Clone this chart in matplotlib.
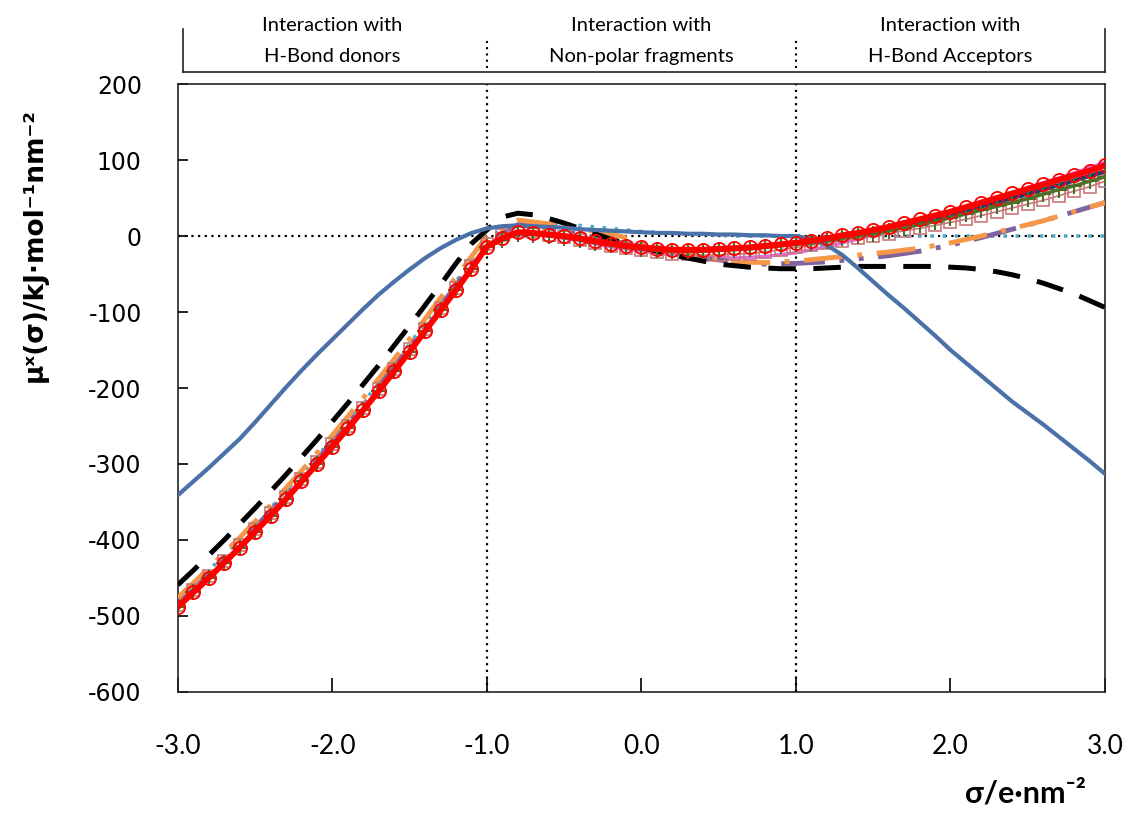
import numpy as np
import matplotlib
matplotlib.use("Agg")
import matplotlib.pyplot as plt
import matplotlib.transforms as mtransforms

# sigma grids: fine one for the smooth / marker series, coarse one for the rest
sig_fine = np.round(np.arange(-3.0, 3.001, 0.1), 1)
sig_coarse = np.round(np.arange(-3.0, 3.001, 0.2), 1)

# sigma-potentials, kJ/mol/nm2 (fine grid)
mu_blue = [-341, -323, -305, -286, -267, -245, -222, -199, -177, -156, -136, -116, -96, -77,
           -60, -44, -29, -16, -5, 4, 10, 13, 14, 13, 12, 11, 9, 8, 7, 6, 5, 4, 4, 3, 3, 2,
           2, 1, 1, 0, 0, -4, -12, -25, -42, -60, -78, -95, -113, -131, -150, -167, -184,
           -201, -218, -233, -248, -264, -280, -296, -313]
mu_black = [-459, -440, -420, -400, -379, -358, -336, -314, -291, -268, -244, -220, -195, -170,
            -144, -118, -91, -64, -36, -10, 8, 25, 30, 28, 23, 17, 10, 3, -4, -10, -15, -20,
            -25, -29, -33, -37, -39, -41, -42, -43, -43, -43, -42, -41, -40, -40, -40, -40,
            -40, -40, -41, -42, -44, -47, -51, -56, -62, -69, -76, -85, -94]

# coarse grid series
mu_orange = [-476, -437, -397, -354, -309, -262, -213, -162, -109, -54, 0, 21, 16, 9, 3, -8,
             -20, -29, -34, -35, -33, -29, -25, -21, -16, -9, 0, 10, 20, 32, 44]
mu_purple = [-482, -444, -404, -362, -317, -271, -223, -172, -119, -65, -8, 15, 10, 2, -6, -14,
             -22, -29, -34, -37, -36, -34, -30, -26, -20, -12, -2, 9, 20, 32, 44]
mu_cyan = [-478, -440, -400, -358, -313, -267, -219, -168, -115, -60, -2, 16, 17, 14, 10, 6,
           4, 2, 0, 0, 0, 0, 0, 0, 0, 0, 0, 0, 0, 0, 0]
mu_violet = [-488, -450, -410, -368, -323, -277, -229, -178, -125, -71, -14, 5, 0, -6, -14, -20,
             -25, -28, -29, -27, -22, -14, -4, 7, 19, 31, 44, 57, 70, 83, 97]
mu_navy = [-488, -450, -410, -368, -323, -277, -229, -178, -125, -71, -14, 5, 2, -3, -10, -15,
           -18, -18, -16, -13, -9, -4, 2, 9, 18, 28, 39, 50, 61, 73, 85]

# marker series (fine grid)
mu_red = [-488, -469, -450, -430, -410, -389, -368, -346, -323, -300, -277, -253, -229, -204,
          -178, -152, -125, -98, -71, -43, -14, -3, 5, 4, 2, 0, -3, -7, -10, -13, -15, -17,
          -18, -18, -18, -17, -16, -15, -13, -11, -9, -6, -3, 1, 4, 8, 12, 17, 22, 27, 32,
          38, 44, 50, 56, 62, 68, 74, 80, 86, 93]
mu_green = [-488, -469, -450, -430, -410, -389, -368, -346, -323, -300, -277, -253, -229, -204,
            -178, -152, -125, -98, -71, -43, -14, -5, 3, 2, 0, -2, -5, -9, -12, -15, -17, -19,
            -20, -20, -20, -19, -18, -17, -15, -13, -11, -9, -6, -3, 0, 3, 7, 11, 15, 19, 24,
            29, 34, 39, 44, 49, 55, 61, 66, 72, 78]
mu_square = [-485, -466, -447, -427, -407, -386, -365, -343, -320, -297, -274, -250, -226, -201,
             -175, -149, -122, -95, -68, -40, -11, 2, 7, 5, 2, -1, -5, -9, -13, -16, -19, -21,
             -23, -24, -25, -25, -24, -23, -21, -18, -15, -12, -9, -6, -3, 0, 3, 7, 10, 14, 18,
             22, 27, 32, 37, 42, 47, 53, 59, 65, 72]

regions = ["Interaction with\nH-Bond donors",
           "Interaction with\nNon-polar fragments",
           "Interaction with\nH-Bond Acceptors"]
region_mid = [-2.0, 0.0, 2.0]
region_edges = [-1.0, 1.0]

TEXT = ["Lato", "DejaVu Sans"]

fig = plt.figure(figsize=(11.33, 8.16), dpi=100)
ax = fig.add_axes([0.157, 0.152, 0.8183, 0.745])

# reference lines
dot = (0, (1, 2))
ax.axhline(0, color="black", lw=1.6, ls=dot, zorder=1)
for e in region_edges:
    ax.axvline(e, color="black", lw=1.6, ls=dot, zorder=1)

ax.plot(sig_coarse, mu_cyan, color="#4BACC6", lw=2.5, ls=(0, (1, 2.5)), zorder=2)
ax.plot(sig_coarse, mu_violet, color="#E36CE3", lw=2.5, zorder=2)
ax.plot(sig_coarse, mu_purple, color="#8064A2", lw=3.5, ls=(0, (9, 3, 1, 3, 1, 3)), zorder=3)
ax.plot(sig_coarse, mu_orange, color="#F79646", lw=3.5, ls=(0, (8, 3, 1, 3)), zorder=3)
ax.plot(sig_fine, mu_square, color="#C87878", lw=1.2, marker="s", ms=8, mfc="none",
        mec="#C87878", mew=1.2, zorder=4)
ax.plot(sig_fine, mu_black, color="black", lw=3.6, ls=(0, (5.5, 3.5)), zorder=4)
ax.plot(sig_fine, mu_blue, color="#4A72A8", lw=3, zorder=5)
ax.plot(sig_coarse, mu_navy, color="#1F3A78", lw=3, zorder=5)
ax.plot(sig_fine, mu_green, color="#4F6F28", lw=2.5, marker="+", ms=12, mew=1.5, zorder=6)
ax.plot(sig_fine, mu_red, color="#FF0000", lw=4.3, marker="o", ms=9.5, mfc="none",
        mec="#FF0000", mew=1.3, zorder=7)

ax.set_xlim(-3, 3)
ax.set_ylim(-600, 200)
ax.set_xticks(np.arange(-3, 3.1, 1))
ax.set_xticklabels([f"{v:.1f}" for v in np.arange(-3, 3.1, 1)], family=TEXT, fontsize=19)
ax.set_yticks(np.arange(-600, 201, 100))
ax.set_yticklabels([f"{v}" for v in range(-600, 201, 100)], fontsize=17)
ax.tick_params(axis="y", direction="in", length=7, width=1.2, pad=26)
ax.tick_params(axis="x", direction="in", length=10, width=1.2, pad=30)
for s in ax.spines.values():
    s.set_linewidth(1.2)
    s.set_color("#222222")

fig.text(0.031, 0.70, "μˣ(σ)/kJ·mol⁻¹nm⁻²", rotation=90, ha="center", va="center",
         fontsize=19, fontweight="bold")
fig.text(0.958, 0.01, "σ/e·nm⁻²", ha="right", va="bottom", fontsize=22,
         fontweight="bold", family=TEXT)

# region header above the plot
tr = mtransforms.blended_transform_factory(ax.transData, ax.transAxes)
ax.plot([-2.97, 3.0], [1.02, 1.02], color="#222222", lw=1.2, transform=tr, clip_on=False)
for xe in (-2.97, 3.0):
    ax.plot([xe, xe], [1.02, 1.09], color="#222222", lw=1.2, transform=tr, clip_on=False)
for e in region_edges:
    ax.plot([e, e], [1.026, 1.078], color="black", lw=1.5, ls=dot, transform=tr, clip_on=False)
for xm, label in zip(region_mid, regions):
    ax.text(xm, 1.071, label, transform=tr, ha="center", va="center", fontsize=14.5,
            family=TEXT, linespacing=2.0)

fig.savefig("out.png", dpi=100, facecolor="white")
